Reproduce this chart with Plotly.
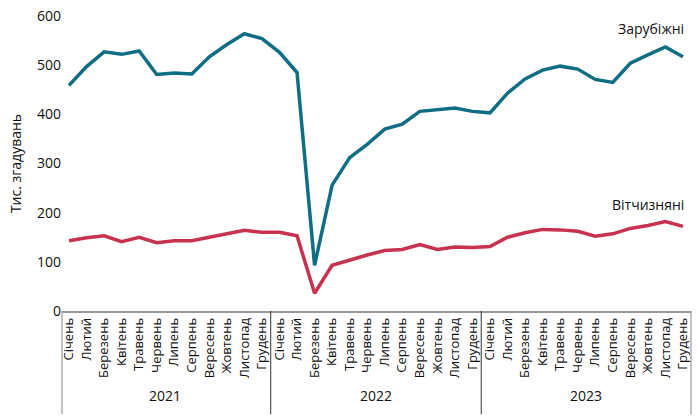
import plotly.graph_objects as go

months = ["Січень", "Лютий", "Березень", "Квітень", "Травень", "Червень",
          "Липень", "Серпень", "Вересень", "Жовтень", "Листопад", "Грудень"]
years = ["2021", "2022", "2023"]

foreign = [459, 497, 527, 522, 529, 481, 484, 482, 517, 542, 564, 554,
           526, 485, 93, 256, 312, 339, 370, 380, 406, 409, 413, 406,
           403, 443, 472, 490, 498, 492, 471, 465, 504, 521, 537, 517]
domestic = [143, 149, 153, 141, 150, 139, 143, 143, 150, 157, 164, 160,
            160, 153, 36, 93, 104, 114, 123, 125, 135, 125, 130, 129,
            131, 150, 159, 166, 165, 162, 152, 157, 168, 174, 182, 172]

labels = months * len(years)
xs = list(range(len(labels)))

TEAL = "#0f6e84"
RED = "#c8324f"
FONT = "Open Sans"

fig = go.Figure()
fig.add_trace(go.Scatter(x=xs, y=foreign, mode="lines", name="Зарубіжні",
                         line=dict(color=TEAL, width=3.5)))
fig.add_trace(go.Scatter(x=xs, y=domestic, mode="lines", name="Вітчизняні",
                         line=dict(color=RED, width=3.5)))

fig.add_annotation(x=35.2, y=551, text="Зарубіжні", showarrow=False,
                   xanchor="right", yanchor="bottom", xref="x", yref="y",
                   font=dict(family=FONT, size=14, color="#111"))
fig.add_annotation(x=35.2, y=194, text="Вітчизняні", showarrow=False,
                   xanchor="right", yanchor="bottom", xref="x", yref="y",
                   font=dict(family=FONT, size=14, color="#111"))

# year group labels and separators
for i, yr in enumerate(years):
    fig.add_annotation(x=i * 12 + 5.5, y=-0.285, text=yr, showarrow=False,
                       xref="x", yref="paper", xanchor="center", yanchor="middle",
                       font=dict(family=FONT, size=14, color="#111"))
for sep in [11.5, 23.5]:
    fig.add_shape(type="line", x0=sep, x1=sep, y0=0, y1=-0.35, xref="x", yref="paper",
                  line=dict(color="#333", width=1))
for px in [0, 1]:
    fig.add_shape(type="line", x0=px, x1=px, y0=0, y1=-0.35, xref="paper", yref="paper",
                  line=dict(color="#999", width=1.2))

fig.update_layout(
    width=697, height=419,
    margin=dict(l=62, r=6, t=14, b=108),
    plot_bgcolor="white", paper_bgcolor="white",
    showlegend=False,
    font=dict(family=FONT, size=14, color="#111"),
    xaxis=dict(range=[-0.4, 35.46], tickmode="array", tickvals=xs, ticktext=labels,
               tickangle=-90, showgrid=False, zeroline=False, showline=True,
               linecolor="#999", linewidth=1.5, ticks="",
               tickfont=dict(family=FONT, size=13, color="#111")),
    yaxis=dict(range=[0, 600], tickvals=[0, 100, 200, 300, 400, 500, 600],
               showgrid=False, zeroline=False, showline=False, ticks="",
               title=dict(text="Тис. згадувань", standoff=12,
                          font=dict(family=FONT, size=14, color="#111")),
               tickfont=dict(family=FONT, size=14, color="#111")),
)
fig.write_html("out.html", config={"displayModeBar": False},
               post_script="document.body.style.margin='0';document.body.style.overflow='hidden';")
